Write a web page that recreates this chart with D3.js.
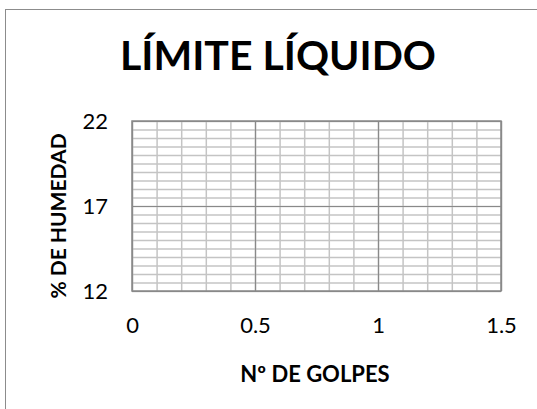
<!DOCTYPE html>
<html>
<head>
<meta charset="utf-8">
<script src="https://cdn.jsdelivr.net/npm/d3@7"></script>
<style>
  body { margin: 0; background: #fff; }
  text { font-family: Lato, "Open Sans", sans-serif; fill: #000; }
</style>
</head>
<body>
<div id="chart"></div>
<script>
/* Limite liquido: empty chart frame with grid */

// series (the sheet has no points plotted yet)
const golpes = [];
const humedad = [];

const xTicks = [0, 0.5, 1, 1.5];
const yTicks = [12, 17, 22];
const xMinor = 0.1;
const yMinor = 0.5;

const width = 537, height = 409;
const margin = ({ top: 121, right: 36, bottom: 118, left: 132 });

let svg = d3.select("#chart")
            .append("svg")
            .attr("width", width)
            .attr("height", height);

// outer chart frame (only left and top are inside the picture)
svg.append("rect")
    .attr("x", 5.5).attr("y", 9.5)
    .attr("width", 560).attr("height", 430)
    .attr("fill", "none")
    .attr("stroke", "#8c8c8c");

const x = d3.scaleLinear()
            .domain([xTicks[0], xTicks[xTicks.length - 1]])
            .range([margin.left, width - margin.right]);

const y = d3.scaleLinear()
            .domain([yTicks[0], yTicks[yTicks.length - 1]])
            .range([height - margin.bottom, margin.top]);

const plotW = width - margin.left - margin.right;
const plotH = height - margin.top - margin.bottom;

const minorX = d3.range(x.domain()[0], x.domain()[1] + 1e-9, xMinor).map(v => +v.toFixed(2));
const minorY = d3.range(y.domain()[0], y.domain()[1] + 1e-9, yMinor).map(v => +v.toFixed(2));

// minor grid
svg.append("g")
    .attr("transform", `translate(0,${height - margin.bottom})`)
    .call(d3.axisBottom(x).tickValues(minorX).tickSize(-plotH).tickFormat(""))
    .call(g => g.select(".domain").remove())
    .call(g => g.selectAll("line").attr("stroke", "#c4c4c4").attr("stroke-width", 1.5));

svg.append("g")
    .attr("transform", `translate(${margin.left},0)`)
    .call(d3.axisLeft(y).tickValues(minorY).tickSize(-plotW).tickFormat(""))
    .call(g => g.select(".domain").remove())
    .call(g => g.selectAll("line").attr("stroke", "#c4c4c4").attr("stroke-width", 1.5));

// major grid
svg.append("g")
    .attr("transform", `translate(0,${height - margin.bottom})`)
    .call(d3.axisBottom(x).tickValues(xTicks).tickSize(-plotH).tickFormat(""))
    .call(g => g.select(".domain").remove())
    .call(g => g.selectAll("line").attr("stroke", "#898989").attr("stroke-width", 1.2));

svg.append("g")
    .attr("transform", `translate(${margin.left},0)`)
    .call(d3.axisLeft(y).tickValues(yTicks).tickSize(-plotW).tickFormat(""))
    .call(g => g.select(".domain").remove())
    .call(g => g.selectAll("line").attr("stroke", "#898989").attr("stroke-width", 1.2));

// plot border
svg.append("rect")
    .attr("x", margin.left).attr("y", margin.top)
    .attr("width", plotW).attr("height", plotH)
    .attr("fill", "none")
    .attr("stroke", "#898989")
    .attr("stroke-width", 1.5);

// tick labels
svg.append("g")
    .attr("transform", `translate(0,${height - margin.bottom + 23})`)
    .call(d3.axisBottom(x).tickValues(xTicks).tickSize(0).tickFormat(d3.format("")))
    .call(g => g.select(".domain").remove())
    .call(g => g.selectAll("text")
        .style("font-size", "22px")
        .style("font-family", "Lato, 'Open Sans', sans-serif")
        .attr("fill", "#000"));

svg.append("g")
    .attr("transform", `translate(${margin.left - 24},0)`)
    .call(d3.axisLeft(y).tickValues(yTicks).tickSize(0))
    .call(g => g.select(".domain").remove())
    .call(g => g.selectAll("text")
        .attr("x", 0)
        .style("font-size", "22px")
        .style("font-family", "Lato, 'Open Sans', sans-serif")
        .attr("fill", "#000"));

// points (none in the sheet)
svg.append("g")
    .selectAll("circle")
    .data(d3.zip(golpes, humedad))
    .join("circle")
    .attr("cx", d => x(d[0]))
    .attr("cy", d => y(d[1]))
    .attr("r", 4)
    .attr("fill", "#4472c4");

// titles
svg.append("text")
    .text("LÍMITE LÍQUIDO")
    .attr("x", 278).attr("y", 70)
    .attr("text-anchor", "middle")
    .style("font-size", "41px")
    .style("font-weight", "bold");

svg.append("text")
    .text("Nº DE GOLPES")
    .attr("x", 315).attr("y", 382)
    .attr("text-anchor", "middle")
    .style("font-size", "22px")
    .style("font-weight", "bold");

svg.append("text")
    .text("% DE HUMEDAD")
    .attr("transform", `translate(66,216) rotate(-90)`)
    .attr("text-anchor", "middle")
    .style("font-size", "21px")
    .style("font-weight", "bold");
</script>
</body>
</html>
